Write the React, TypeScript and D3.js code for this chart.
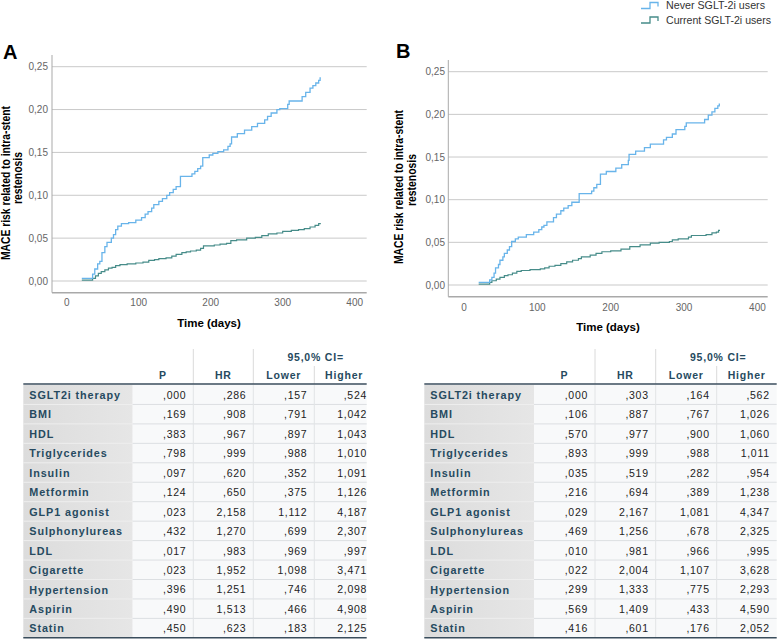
import React from 'react';
import * as d3 from 'd3';

// ---------- Kaplan-Meier style cumulative risk data ----------
const neverA_days = [21, 36, 39, 43, 46, 49, 53, 56, 62, 65, 68, 71, 76, 86, 96, 104, 109, 113, 118, 121, 128, 133, 139, 143, 148, 152, 158, 174, 178, 182, 186, 189, 198, 203, 210, 218, 224, 227, 229, 237, 247, 257, 265, 275, 279, 284, 292, 296, 307, 309, 327, 332, 338, 342, 346, 350, 352];
const neverA_risk = [0.003, 0.008, 0.014, 0.02, 0.023, 0.033, 0.04, 0.045, 0.05, 0.054, 0.06, 0.064, 0.067, 0.068, 0.071, 0.074, 0.078, 0.081, 0.085, 0.089, 0.093, 0.096, 0.1, 0.103, 0.107, 0.11, 0.122, 0.125, 0.128, 0.131, 0.134, 0.144, 0.147, 0.149, 0.151, 0.153, 0.157, 0.16, 0.168, 0.172, 0.176, 0.18, 0.184, 0.188, 0.192, 0.196, 0.2, 0.201, 0.206, 0.21, 0.215, 0.22, 0.225, 0.228, 0.231, 0.234, 0.237];
const neverA_end = 353;

const currentA_days = [21, 36, 40, 44, 48, 53, 58, 63, 68, 74, 84, 96, 106, 114, 122, 128, 138, 146, 152, 160, 166, 172, 180, 186, 190, 205, 213, 222, 228, 236, 250, 262, 271, 280, 292, 300, 312, 322, 330, 338, 345, 350];
const currentA_risk = [0.001, 0.003, 0.006, 0.009, 0.011, 0.013, 0.015, 0.016, 0.018, 0.019, 0.02, 0.021, 0.022, 0.024, 0.025, 0.026, 0.027, 0.029, 0.031, 0.033, 0.034, 0.035, 0.036, 0.038, 0.041, 0.042, 0.043, 0.044, 0.047, 0.048, 0.05, 0.051, 0.053, 0.055, 0.056, 0.058, 0.059, 0.06, 0.061, 0.063, 0.065, 0.067];
const currentA_end = 353;

const neverB_days = [20, 35, 38, 41, 43, 47, 49, 53, 55, 59, 62, 65, 70, 74, 85, 95, 102, 106, 109, 113, 122, 126, 132, 136, 142, 147, 157, 174, 177, 181, 186, 194, 207, 215, 224, 225, 234, 246, 254, 272, 276, 284, 289, 301, 303, 328, 333, 338, 342, 346, 348];
const neverB_risk = [0.003, 0.006, 0.009, 0.014, 0.02, 0.024, 0.029, 0.033, 0.037, 0.041, 0.045, 0.051, 0.054, 0.056, 0.059, 0.062, 0.065, 0.068, 0.07, 0.074, 0.079, 0.083, 0.087, 0.09, 0.093, 0.097, 0.107, 0.11, 0.114, 0.118, 0.13, 0.133, 0.137, 0.141, 0.146, 0.153, 0.157, 0.161, 0.165, 0.17, 0.173, 0.177, 0.182, 0.186, 0.19, 0.194, 0.199, 0.203, 0.207, 0.21, 0.212];
const neverB_end = 349;

const currentB_days = [20, 35, 38, 44, 49, 55, 60, 66, 72, 78, 90, 104, 110, 116, 124, 132, 140, 148, 156, 160, 172, 180, 188, 200, 214, 226, 240, 254, 266, 280, 284, 292, 306, 310, 330, 338, 344, 347];
const currentB_risk = [0.001, 0.003, 0.005, 0.007, 0.009, 0.011, 0.012, 0.014, 0.016, 0.017, 0.018, 0.019, 0.02, 0.022, 0.023, 0.025, 0.027, 0.029, 0.031, 0.033, 0.035, 0.037, 0.039, 0.04, 0.042, 0.045, 0.047, 0.049, 0.05, 0.051, 0.053, 0.054, 0.056, 0.058, 0.059, 0.061, 0.062, 0.064];
const currentB_end = 349;

const yTicks = [0, 0.05, 0.1, 0.15, 0.2, 0.25];
const xTicks = [0, 100, 200, 300, 400];
const seriesNames = ['Never SGLT-2i users', 'Current SGLT-2i users'];

// ---------- Cox regression tables ----------
const rowLabels = ['SGLT2i therapy', 'BMI', 'HDL', 'Triglycerides', 'Insulin', 'Metformin', 'GLP1 agonist', 'Sulphonylureas', 'LDL', 'Cigarette', 'Hypertension', 'Aspirin', 'Statin'];
const colHeaders = ['P', 'HR', 'Lower', 'Higher'];
const ciHeader = '95,0% CI=';

const pA = [',000', ',169', ',383', ',798', ',097', ',124', ',023', ',432', ',017', ',023', ',396', ',490', ',450'];
const hrA = [',286', ',908', ',967', ',999', ',620', ',650', '2,158', '1,270', ',983', '1,952', '1,251', '1,513', ',623'];
const lowerA = [',157', ',791', ',897', ',988', ',352', ',375', '1,112', ',699', ',969', '1,098', ',746', ',466', ',183'];
const higherA = [',524', '1,042', '1,043', '1,010', '1,091', '1,126', '4,187', '2,307', ',997', '3,471', '2,098', '4,908', '2,125'];

const pB = [',000', ',106', ',570', ',893', ',035', ',216', ',029', ',469', ',010', ',022', ',299', ',569', ',416'];
const hrB = [',303', ',887', ',977', ',999', ',519', ',694', '2,167', '1,256', ',981', '2,004', '1,333', '1,409', ',601'];
const lowerB = [',164', ',767', ',900', ',988', ',282', ',389', '1,081', ',678', ',966', '1,107', ',775', ',433', ',176'];
const higherB = [',562', '1,026', '1,060', '1,011', ',954', '1,238', '4,347', '2,325', ',995', '3,628', '2,293', '4,590', '2,052'];

const NEVER_COLOR = '#68b4ea';
const CURRENT_COLOR = '#468c89';
const SANS = '"Liberation Sans", Arial, sans-serif';

const fmtY = (v: number) => d3.format('.2f')(v).replace('.', ',');

type Layout = {
  left: number; right: number; xDomain: [number, number];
  y0: number; y25: number; top: number; bottom: number;
  tickRight: number; xLabelY: number; titleX: number; titleY: number;
  yt1x: number; yt1cy: number; yt2x: number; yt2cy: number;
  letterX: number; letterY: number;
};

function toPoints(days: number[], risk: number[], end: number): [number, number][] {
  const pts: [number, number][] = days.map((d, i) => [d, risk[i]]);
  pts.push([end, risk[risk.length - 1]]);
  return pts;
}

function KMPanel({ letter, L, never, current }: { letter: string; L: Layout; never: [number, number][]; current: [number, number][] }) {
  const x = d3.scaleLinear().domain(L.xDomain).range([L.left, L.right]);
  const y = d3.scaleLinear().domain([0, 0.25]).range([L.y0, L.y25]);
  const line = d3.line<[number, number]>().x(d => x(d[0])).y(d => y(d[1])).curve(d3.curveStepAfter);
  return (
    <g>
      <text x={L.letterX} y={L.letterY} fontFamily={SANS} fontWeight="bold" fontSize={20} fill="#000">{letter}</text>
      {yTicks.map(t => (
        <g key={t}>
          <line x1={L.left} x2={L.right} y1={y(t)} y2={y(t)} stroke="#c9c9c9" strokeWidth={1} />
          <text x={L.tickRight} y={y(t)} dy="0.35em" textAnchor="end" fontFamily={SANS} fontSize={10} fill="#666">{fmtY(t)}</text>
        </g>
      ))}
      <line x1={L.left} x2={L.left} y1={L.top} y2={L.bottom} stroke="#a9a9a9" strokeWidth={1} />
      <line x1={L.left} x2={L.right} y1={L.bottom} y2={L.bottom} stroke="#a9a9a9" strokeWidth={1.6} />
      {xTicks.map(t => (
        <text key={t} x={x(t)} y={L.xLabelY} dy="0.35em" textAnchor="middle" fontFamily={SANS} fontSize={10} fill="#666">{t}</text>
      ))}
      <path d={line(current) || ''} fill="none" stroke={CURRENT_COLOR} strokeWidth={1.2} />
      <path d={line(never) || ''} fill="none" stroke={NEVER_COLOR} strokeWidth={1.3} />
      <text x={L.titleX} y={L.titleY} dy="0.35em" textAnchor="middle" fontFamily={SANS} fontWeight="bold" fontSize={11.5} fill="#000">Time (days)</text>
      <text transform={`translate(${L.yt1x},${L.yt1cy}) rotate(-90)`} textAnchor="middle" dominantBaseline="central"
        fontFamily={SANS} fontWeight="bold" fontSize={12.5} fill="#000" textLength={154} lengthAdjust="spacingAndGlyphs">MACE risk related to intra-stent</text>
      <text transform={`translate(${L.yt2x},${L.yt2cy}) rotate(-90)`} textAnchor="middle" dominantBaseline="central"
        fontFamily={SANS} fontWeight="bold" fontSize={12.5} fill="#000" textLength={52} lengthAdjust="spacingAndGlyphs">restenosis</text>
    </g>
  );
}

type TLayout = { left: number; labelEnd: number; colEnds: number[]; clip: number; id: string };

function CoxTable({ T, cols }: { T: TLayout; cols: string[][] }) {
  const rowTop = 385;
  const rowH = 19.45;
  const nRows = rowLabels.length;
  const rows = d3.range(nRows);
  const bottom = rowTop + nRows * rowH;
  const colStarts = [T.labelEnd, ...T.colEnds.slice(0, 3)];
  const labelColor = '#264a60';
  return (
    <g clipPath={`url(#clip-${T.id})`}>
      <defs>
        <clipPath id={`clip-${T.id}`}><rect x={T.left - 2} y={340} width={T.clip - T.left + 2} height={310} /></clipPath>
        <linearGradient id={`grad-${T.id}`} x1="0" x2="1" y1="0" y2="0">
          <stop offset="0" stopColor="#dcdcdc" />
          <stop offset="1" stopColor="#e6e6e6" />
        </linearGradient>
      </defs>
      <rect x={T.left} y={rowTop} width={T.labelEnd - T.left} height={bottom - rowTop} fill={`url(#grad-${T.id})`} />
      <rect x={T.labelEnd} y={rowTop} width={T.colEnds[3] - T.labelEnd} height={bottom - rowTop} fill="#f8f9fa" />
      {rows.slice(1).map(i => (
        <g key={`s${i}`}>
          <line x1={T.left} x2={T.labelEnd} y1={rowTop + i * rowH} y2={rowTop + i * rowH} stroke="#eeeeee" strokeWidth={1} />
          <line x1={T.labelEnd} x2={T.colEnds[3]} y1={rowTop + i * rowH} y2={rowTop + i * rowH} stroke="#dcdfe2" strokeWidth={1} />
        </g>
      ))}
      {T.colEnds.slice(0, 3).map((cx, i) => (
        <line key={`v${i}`} x1={cx} x2={cx} y1={rowTop} y2={bottom} stroke="#e2e4e6" strokeWidth={1} />
      ))}
      <line x1={T.colEnds[0]} x2={T.colEnds[0]} y1={349} y2={384} stroke="#dadada" strokeWidth={1} />
      <line x1={T.colEnds[1]} x2={T.colEnds[1]} y1={349} y2={384} stroke="#dadada" strokeWidth={1} />
      <line x1={T.colEnds[2]} x2={T.colEnds[2]} y1={366} y2={384} stroke="#dadada" strokeWidth={1} />
      <text x={(T.colEnds[1] + T.colEnds[3]) / 2 + 2} y={357} dy="0.35em" textAnchor="middle" fontFamily={SANS} fontWeight="bold" fontSize={10.5} letterSpacing={0.8} fill={labelColor}>{ciHeader}</text>
      {colHeaders.map((h, j) => (
        <text key={h} x={(colStarts[j] + T.colEnds[j]) / 2} y={375} dy="0.35em" textAnchor="middle" fontFamily={SANS} fontWeight="bold" fontSize={10.5} letterSpacing={0.8} fill={labelColor}>{h}</text>
      ))}
      <line x1={T.left} x2={T.colEnds[3]} y1={384} y2={384} stroke="#3a4d5c" strokeWidth={1.5} />
      <line x1={T.left} x2={T.colEnds[3]} y1={bottom} y2={bottom} stroke="#3a4d5c" strokeWidth={1.5} />
      {rows.map(i => {
        const cy = rowTop + i * rowH + rowH / 2 + 0.5;
        return (
          <g key={`r${i}`}>
            <text x={T.left + 6} y={cy} dy="0.35em" fontFamily={SANS} fontWeight="bold" fontSize={10.8} letterSpacing={0.9} fill={labelColor}>{rowLabels[i]}</text>
            {cols.map((c, j) => (
              <text key={j} x={T.colEnds[j] - 7} y={cy} dy="0.35em" textAnchor="end" fontFamily={SANS} fontSize={10.5} letterSpacing={0.7} fill="#222">{c[i]}</text>
            ))}
          </g>
        );
      })}
    </g>
  );
}

const layoutA: Layout = {
  left: 52, right: 366.7, xDomain: [-20.4, 416.7], y0: 281, y25: 66.7, top: 55, bottom: 292.7,
  tickRight: 48, xLabelY: 302, titleX: 209, titleY: 323,
  yt1x: 6, yt1cy: 183, yt2x: 17.5, yt2cy: 178, letterX: 3, letterY: 59,
};
const layoutB: Layout = {
  left: 448.3, right: 767.7, xDomain: [-21.4, 414], y0: 285, y25: 71.7, top: 60, bottom: 296.7,
  tickRight: 445, xLabelY: 307, titleX: 608, titleY: 327,
  yt1x: 399, yt1cy: 187, yt2x: 412, yt2cy: 180, letterX: 396, letterY: 58,
};

const tableA: TLayout = { left: 23.3, labelEnd: 132.7, colEnds: [193.3, 253.3, 314.3, 374], clip: 366.7, id: 'A' };
const tableB: TLayout = { left: 424.3, labelEnd: 534, colEnds: [595, 655.7, 716.7, 776.7], clip: 778, id: 'B' };

function Legend() {
  const items = [
    { name: seriesNames[0], color: NEVER_COLOR, y: 5.5, len: 99 },
    { name: seriesNames[1], color: CURRENT_COLOR, y: 20, len: 105 },
  ];
  return (
    <g>
      {items.map(it => (
        <g key={it.name}>
          <path d={`M641,${it.y + 3} H650 V${it.y - 3} H658 V${it.y + 1}`} fill="none" stroke={it.color} strokeWidth={1.3} />
          <text x={666} y={it.y} dy="0.35em" fontFamily={SANS} fontSize={11} fill="#333" textLength={it.len} lengthAdjust="spacingAndGlyphs">{it.name}</text>
        </g>
      ))}
    </g>
  );
}

export default function App() {
  const nA = toPoints(neverA_days, neverA_risk, neverA_end);
  const cA = toPoints(currentA_days, currentA_risk, currentA_end);
  const nB = toPoints(neverB_days, neverB_risk, neverB_end);
  const cB = toPoints(currentB_days, currentB_risk, currentB_end);
  return (
    <svg width={778} height={640} viewBox="0 0 778 640" style={{ position: 'absolute', left: 0, top: 0, background: '#fff' }}>
      <rect x={0} y={0} width={778} height={640} fill="#fff" />
      <Legend />
      <KMPanel letter="A" L={layoutA} never={nA} current={cA} />
      <KMPanel letter="B" L={layoutB} never={nB} current={cB} />
      <CoxTable T={tableA} cols={[pA, hrA, lowerA, higherA]} />
      <CoxTable T={tableB} cols={[pB, hrB, lowerB, higherB]} />
    </svg>
  );
}
